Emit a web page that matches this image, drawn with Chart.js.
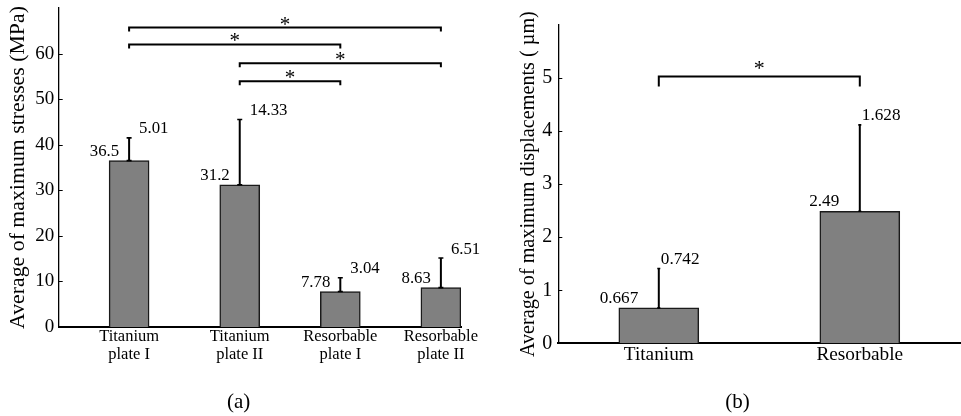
<!DOCTYPE html>
<html><head><meta charset="utf-8">
<script src="https://cdn.jsdelivr.net/npm/chart.js@4"></script>
<style>
html,body{margin:0;padding:0;background:#fff;}
body{width:961px;height:416px;overflow:hidden;position:relative;font-family:"Liberation Serif","Times New Roman",serif;}
#c1{position:absolute;left:0;top:0;}
#c2{position:absolute;left:480px;top:0;}
.cap{position:absolute;top:388px;font-size:21px;line-height:26px;color:#000;transform:translateX(-50%);white-space:nowrap;}
</style></head><body>
<canvas id="c1" width="490" height="416"></canvas>
<canvas id="c2" width="481" height="416"></canvas>
<div class="cap" style="left:238.7px">(a)</div>
<div class="cap" style="left:737.5px">(b)</div>
<script>
// ---------- data: panel (a) ----------
const stressCategories = [['Titanium','plate I'],['Titanium','plate II'],['Resorbable','plate I'],['Resorbable','plate II']];
const stressX = [0.9, 2, 3, 4];
const stressMeans = [36.5, 31.2, 7.78, 8.63];
const stressSD = [5.01, 14.33, 3.04, 6.51];
const stressTicks = [0, 10, 20, 30, 40, 50, 60];
const stressPairs = [[0, 3], [0, 2], [1, 3], [1, 2]];
const stressPairLevels = [65.7, 62, 57.9, 53.9];

// ---------- data: panel (b) ----------
const dispCategories = ['Titanium', 'Resorbable'];
const dispMeans = [0.667, 2.49];
const dispSD = [0.742, 1.628];
const dispTicks = [0, 1, 2, 3, 4, 5];
const dispPairs = [[0, 1]];
const dispPairLevels = [5.03];

const SERIF = '"Liberation Serif", "Times New Roman", serif';
const INK = '#000';

const annotate = {
  id: 'annotate',
  afterDatasetsDraw(chart, args, o) {
    const ctx = chart.ctx;
    const y = chart.scales.y;
    const meta = chart.getDatasetMeta(0);
    const area = chart.chartArea;
    ctx.save();
    ctx.strokeStyle = INK; ctx.fillStyle = INK;
    // inward y tick marks
    ctx.lineWidth = 1;
    ctx.beginPath();
    y.ticks.forEach(t => {
      const py = Math.round(y.getPixelForValue(t.value)) + 0.5;
      ctx.moveTo(area.left, py); ctx.lineTo(area.left + o.tickLen, py);
    });
    ctx.stroke();
    // error bars and value labels
    o.means.forEach((m, i) => {
      const px = meta.data[i].x;
      const y0 = y.getPixelForValue(m);
      const y1 = y.getPixelForValue(m + o.sd[i]);
      ctx.lineWidth = o.errWidth;
      ctx.beginPath();
      ctx.moveTo(px, y0); ctx.lineTo(px, y1);
      ctx.stroke();
      ctx.lineWidth = 1.6;
      ctx.beginPath();
      ctx.moveTo(px - o.cap / 2, y1); ctx.lineTo(px + o.cap / 2, y1);
      ctx.moveTo(px - o.cap / 2, y0); ctx.lineTo(px + o.cap / 2, y0);
      ctx.stroke();
      ctx.font = o.labelFont;
      ctx.textBaseline = 'alphabetic';
      ctx.textAlign = 'right';
      ctx.fillText(String(m), px - o.meanGap, y0 - o.lift);
      ctx.textAlign = 'left';
      ctx.fillText(String(o.sd[i]), px + o.sdGap, y1 - o.lift);
    });
    // significance brackets
    o.pairs.forEach((p, k) => {
      const xa = meta.data[p[0]].x, xb = meta.data[p[1]].x;
      const yb = y.getPixelForValue(o.levels[k]);
      ctx.lineWidth = 2;
      ctx.beginPath();
      ctx.moveTo(xa, yb + o.drop); ctx.lineTo(xa, yb); ctx.lineTo(xb, yb); ctx.lineTo(xb, yb + o.drop);
      ctx.stroke();
      ctx.font = o.starFont;
      ctx.textAlign = 'center';
      ctx.textBaseline = 'alphabetic';
      ctx.fillText('*', (xa + xb) / 2, yb + o.starShift);
    });
    ctx.restore();
  }
};

function zeroPad(s) { s.paddingLeft = 0; s.paddingRight = 0; s.paddingTop = 0; s.paddingBottom = 0; }

// ---------- panel (a) ----------
new Chart(document.getElementById('c1'), {
  type: 'bar',
  data: {
    datasets: [{
      data: stressX.map((v, i) => ({ x: v, y: stressMeans[i] })),
      backgroundColor: '#808080',
      borderColor: '#1a1a1a',
      borderWidth: 1.5,
      barThickness: 40
    }]
  },
  options: {
    responsive: false,
    animation: false,
    layout: { padding: { left: 5.3, right: 29, top: 8, bottom: 0 } },
    plugins: {
      legend: { display: false },
      tooltip: { enabled: false },
      annotate: {
        means: stressMeans, sd: stressSD, pairs: stressPairs, levels: stressPairLevels,
        errWidth: 2, cap: 5, tickLen: 4,
        labelFont: '16.8px ' + SERIF, meanGap: 10, sdGap: 10, lift: 4.5,
        drop: 4, starFont: '21px ' + SERIF, starShift: 3
      }
    },
    scales: {
      x: {
        type: 'linear', min: 0.2, max: 4.2, offset: false,
        afterBuildTicks: s => { s.ticks = stressX.map(v => ({ value: v })); },
        afterFit: s => { s.height = 89; zeroPad(s); },
        grid: { display: false, drawTicks: false, offset: false },
        border: { display: true, color: INK, width: 2 },
        ticks: {
          autoSkip: false, maxRotation: 0, minRotation: 0, padding: 1.5, color: INK,
          font: { family: SERIF, size: 16.5, lineHeight: 1.05 },
          callback: (v, i) => stressCategories[i]
        }
      },
      y: {
        min: 0, max: 70,
        afterBuildTicks: s => { s.ticks = stressTicks.map(v => ({ value: v })); },
        afterFit: s => { s.width = 53.4; zeroPad(s); },
        grid: { display: false, drawTicks: false },
        border: { display: true, color: INK, width: 1.3 },
        ticks: { color: INK, padding: 4.5, font: { family: SERIF, size: 19 } },
        title: { display: true, text: 'Average of maximum stresses (MPa)', color: INK, padding: 0, font: { family: SERIF, size: 21.8 } }
      }
    }
  },
  plugins: [annotate]
});

// ---------- panel (b) ----------
new Chart(document.getElementById('c2'), {
  type: 'bar',
  data: {
    labels: dispCategories,
    datasets: [{
      data: dispMeans,
      backgroundColor: '#808080',
      borderColor: '#1a1a1a',
      borderWidth: 1.5,
      barThickness: 80
    }]
  },
  options: {
    responsive: false,
    animation: false,
    layout: { padding: { left: 36.9, right: 0.7, top: 25, bottom: 0 } },
    plugins: {
      legend: { display: false },
      tooltip: { enabled: false },
      annotate: {
        means: dispMeans, sd: dispSD, pairs: dispPairs, levels: dispPairLevels,
        errWidth: 2, cap: 3, tickLen: 4,
        labelFont: '17.2px ' + SERIF, meanGap: 20.5, sdGap: 2, lift: 4.8,
        drop: 10, starFont: '22px ' + SERIF, starShift: -1.7
      }
    },
    scales: {
      x: {
        afterFit: s => { s.height = 72.7; zeroPad(s); },
        grid: { display: false, drawTicks: false },
        border: { display: true, color: INK, width: 2 },
        ticks: { autoSkip: false, maxRotation: 0, minRotation: 0, padding: 0, color: INK, font: { family: SERIF, size: 19.3 } }
      },
      y: {
        min: 0, max: 6,
        afterBuildTicks: s => { s.ticks = dispTicks.map(v => ({ value: v })); },
        afterFit: s => { s.width = 41.4; zeroPad(s); },
        grid: { display: false, drawTicks: false },
        border: { display: true, color: INK, width: 1.3 },
        ticks: { color: INK, padding: 6, font: { family: SERIF, size: 20 } },
        title: { display: true, text: 'Average of maximum displacements ( µm)', color: INK, padding: 0, font: { family: SERIF, size: 20.2 } }
      }
    }
  },
  plugins: [annotate]
});
</script>
</body></html>
